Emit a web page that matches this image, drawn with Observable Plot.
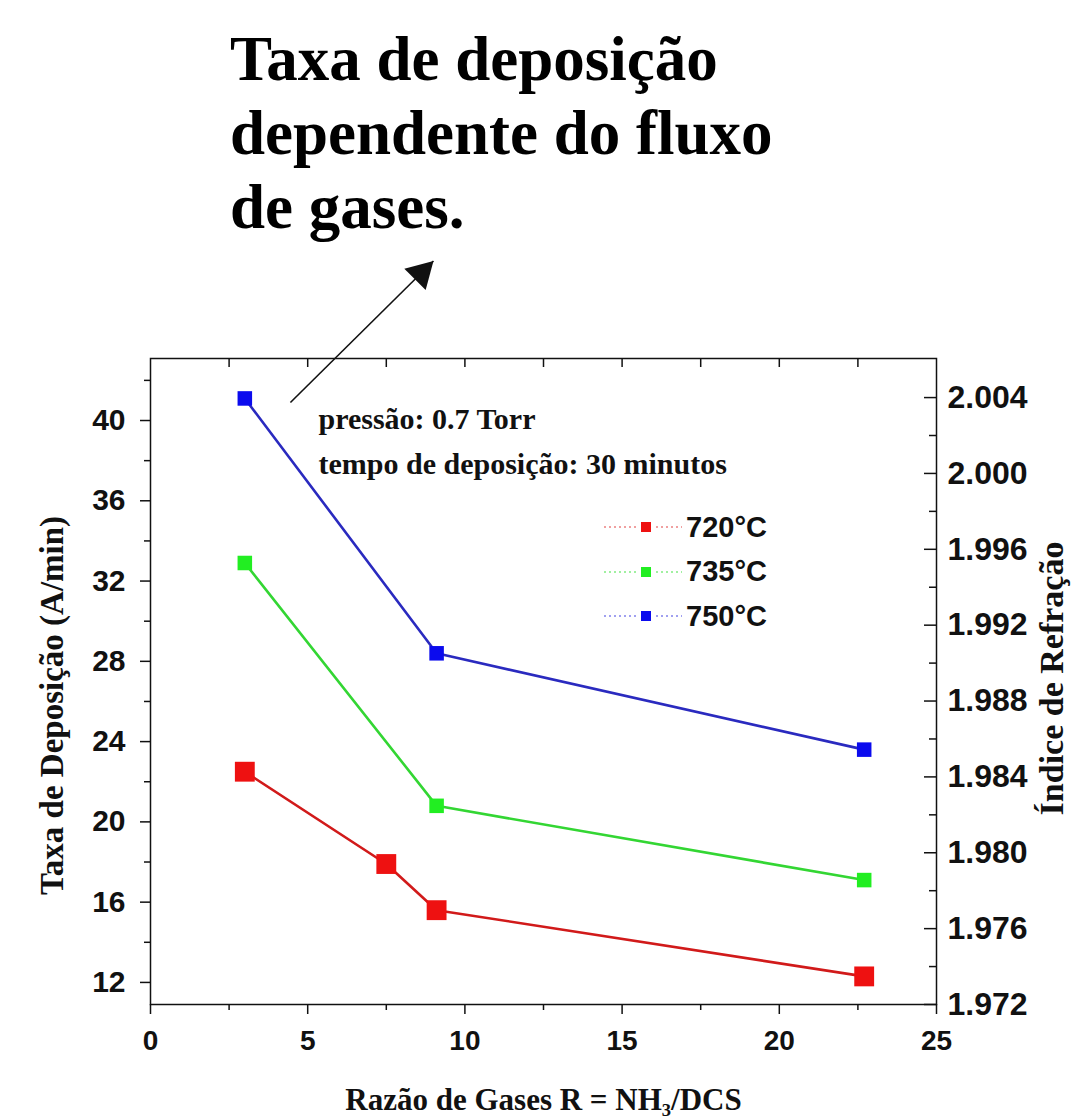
<!DOCTYPE html>
<html>
<head>
<meta charset="utf-8">
<script src="https://cdn.jsdelivr.net/npm/d3@7"></script>
<script src="https://cdn.jsdelivr.net/npm/@observablehq/plot@0.6"></script>
<style>
  body { margin: 0; background: #fff; width: 1071px; height: 1118px; overflow: hidden; }
  #title { height: 250px; box-sizing: border-box; padding: 22px 0 0 230px;
    font-family: "Liberation Serif", serif; font-weight: bold; font-size: 63px; line-height: 74px; color: #000; }
  #chart { position: relative; }
  #legend { position: absolute; left: 600px; top: 255px; font-family: "Liberation Sans", sans-serif;
    font-weight: bold; font-size: 29px; color: #111; }
  .row { height: 44.5px; display: flex; align-items: center; }
  .row svg { display: block; }
</style>
</head>
<body>
<div id="title">Taxa de deposição<br>dependente do fluxo<br>de gases.</div>
<div id="chart"></div>
<script>
// ---- data ----
const temps = ["720°C", "735°C", "750°C"];
const ratio720 = [3.0, 7.5, 9.1, 22.7];
const rate720  = [22.5, 17.9, 15.6, 12.3];
const ratio735 = [3.0, 9.1, 22.7];
const rate735  = [32.9, 20.8, 17.1];
const ratio750 = [3.0, 9.1, 22.7];
const rate750  = [41.1, 28.4, 23.6];

const xTicks = [0, 5, 10, 15, 20, 25];
const xMinor = [2.5, 7.5, 12.5, 17.5, 22.5];
const yTicks = [12, 16, 20, 24, 28, 32, 36, 40];
const yMinor = [14, 18, 22, 26, 30, 34, 38, 42];
const refTicks = [1.972, 1.976, 1.980, 1.984, 1.988, 1.992, 1.996, 2.000, 2.004];
const refMinor = [1.974, 1.978, 1.982, 1.986, 1.990, 1.994, 1.998, 2.002];

const xDomain = [0, 25];
const yDomain = [10.9, 43.09];
const refDomain = [1.972, 2.00606];

const titleX = "Razão de Gases R = NH₃/DCS";
const titleY = "Taxa de Deposição (A/min)";
const titleY2 = "Índice de Refração";
const notes = ["pressão: 0.7 Torr", "tempo de deposição: 30 minutos"];
const arrowFrom = [{x: 4.45, y: 40.9}];
const arrowTo = [{x: 9.0, y: 47.95}];

const lineColors = ["#d11a1a", "#33d633", "#2a2abf"];
const markColors = ["#ee1111", "#22ee22", "#0b0bee"];
const markR = [11.2, 8.2, 8.2];
const legendDots = ["#f0a0a0", "#a0f0a0", "#a0a0f0"];

// ---- build ----
const series = [
  {temp: temps[0], xs: ratio720, ys: rate720},
  {temp: temps[1], xs: ratio735, ys: rate735},
  {temp: temps[2], xs: ratio750, ys: rate750}
];

const toLeft = r => yDomain[0] + (r - refDomain[0]) / (refDomain[1] - refDomain[0]) * (yDomain[1] - yDomain[0]);
const fromLeft = v => refDomain[0] + (v - yDomain[0]) / (yDomain[1] - yDomain[0]) * (refDomain[1] - refDomain[0]);

const W = 1071, H = 868, mL = 150, mR = 135, mT = 108, mB = 114;
const fw = W - mL - mR, fh = H - mT - mB;

const dataMarks = [];
series.forEach((s, i) => {
  const rows = s.xs.map((x, j) => ({x, y: s.ys[j], temp: s.temp}));
  dataMarks.push(Plot.line(rows, {x: "x", y: "y", stroke: lineColors[i], strokeWidth: 2.6}));
});
series.forEach((s, i) => {
  const rows = s.xs.map((x, j) => ({x, y: s.ys[j], temp: s.temp}));
  dataMarks.push(Plot.dot(rows, {x: "x", y: "y", symbol: "square", r: markR[i], fill: markColors[i], stroke: "none"}));
});

const topTicks = [...xTicks, ...xMinor].filter(d => d > xDomain[0] && d < xDomain[1]);
const serif = "Liberation Serif";
const sans = "Liberation Sans";

const chart = Plot.plot({
  width: W, height: H,
  marginLeft: mL, marginRight: mR, marginTop: mT, marginBottom: mB,
  style: {fontFamily: sans, fontWeight: "bold", color: "#111", background: "white", overflow: "visible"},
  x: {domain: xDomain, axis: null},
  y: {domain: yDomain, axis: null},
  marks: [
    // axes & ticks
    Plot.axisX(xTicks, {anchor: "bottom", tickSize: 10, tickPadding: 16, fontSize: 28, fontFamily: sans, fontWeight: "bold", label: null, strokeWidth: 1.5}),
    Plot.axisX(xMinor, {anchor: "bottom", tickSize: 6, tickFormat: () => "", label: null, strokeWidth: 1.5}),
    Plot.tickX(topTicks, {x: d => d, insetBottom: fh - 9, stroke: "#111", strokeWidth: 1.5}),
    Plot.axisY(yTicks, {anchor: "left", tickSize: 10, tickPadding: 15, fontSize: 30, fontFamily: sans, fontWeight: "bold", label: null, strokeWidth: 1.5}),
    Plot.axisY(yMinor, {anchor: "left", tickSize: 6, tickFormat: () => "", label: null, strokeWidth: 1.5}),
    Plot.tickY(refTicks.map(toLeft), {y: d => d, insetLeft: fw - 12, stroke: "#111", strokeWidth: 1.5}),
    Plot.tickY(refMinor.map(toLeft), {y: d => d, insetLeft: fw - 7, stroke: "#111", strokeWidth: 1.5}),
    Plot.axisY(refTicks.map(toLeft), {anchor: "right", tickSize: 0, tickPadding: 11, fontSize: 32, fontFamily: sans, fontWeight: "bold", label: null,
      tickFormat: d => fromLeft(d).toFixed(3)}),
    Plot.frame({stroke: "#111", strokeWidth: 1.5}),
    // axis titles
    Plot.text([titleX], {text: d => d, frameAnchor: "bottom", dy: 96, lineAnchor: "middle", textAnchor: "middle", fontFamily: serif, fontWeight: "bold", fontSize: 31, fill: "#111"}),
    Plot.text([titleY], {text: d => d, frameAnchor: "left", rotate: -90, dx: -98, dy: 24, lineAnchor: "middle", textAnchor: "middle", fontFamily: serif, fontWeight: "bold", fontSize: 33, fill: "#111"}),
    Plot.text([titleY2], {text: d => d, frameAnchor: "right", rotate: -90, dx: 116, dy: -3, lineAnchor: "middle", textAnchor: "middle", fontFamily: serif, fontWeight: "bold", fontSize: 34, fill: "#111"}),
    // notes
    Plot.text([notes.join("\n")], {text: d => d, frameAnchor: "top-left", dx: 168, dy: 39, lineAnchor: "top", textAnchor: "start", lineHeight: 1.5, fontFamily: serif, fontWeight: "bold", fontSize: 30, fill: "#111"}),
    // data
    ...dataMarks,
    // arrow
    Plot.link(arrowFrom.map((a, i) => ({x1: a.x, y1: a.y, x2: arrowTo[i].x, y2: arrowTo[i].y})), {x1: "x1", y1: "y1", x2: "x2", y2: "y2", stroke: "#111", strokeWidth: 1.6}),
    Plot.dot(arrowTo, {x: "x", y: "y", symbol: "triangle", r: 11.2, rotate: 45, dx: -12.3, dy: 12.3, fill: "#111", stroke: "none"})
  ]
});

const container = document.getElementById("chart");
container.appendChild(chart);

// legend
const legend = document.createElement("div");
legend.id = "legend";
temps.forEach((t, i) => {
  const row = document.createElement("div");
  row.className = "row";
  row.innerHTML = `<svg width="86" height="20">
      <line x1="4" x2="36" y1="10" y2="10" stroke="${legendDots[i]}" stroke-width="2" stroke-dasharray="2,3"/>
      <rect x="41" y="5" width="10" height="10" fill="${markColors[i]}"/>
      <line x1="56" x2="82" y1="10" y2="10" stroke="${legendDots[i]}" stroke-width="2" stroke-dasharray="2,3"/>
    </svg><span>${t}</span>`;
  legend.appendChild(row);
});
container.appendChild(legend);
</script>
</body>
</html>
